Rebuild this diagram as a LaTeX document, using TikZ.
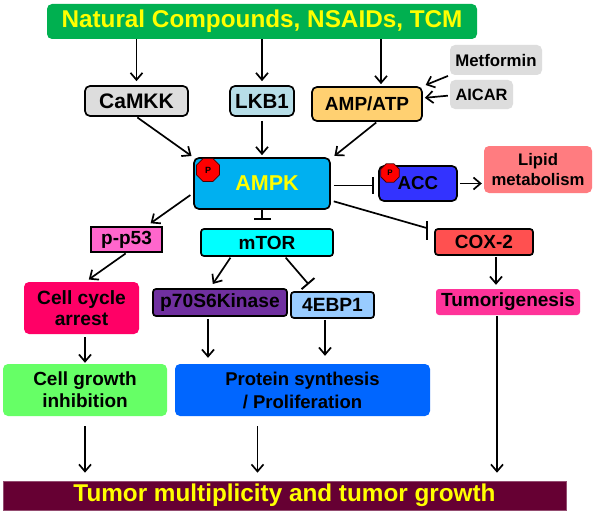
\documentclass[tikz,border=0pt]{standalone}
\usepackage{fontspec}
\setmainfont{Liberation Sans}
\usetikzlibrary{arrows.meta,calc,shapes.geometric}
\definecolor{cgreen}{HTML}{00B050}
\definecolor{cgray}{HTML}{DDDDDD}
\definecolor{clkb}{HTML}{B7DEE8}
\definecolor{camp}{HTML}{FFD071}
\definecolor{campk}{HTML}{00B0F0}
\definecolor{cacc}{HTML}{3333FF}
\definecolor{clipid}{HTML}{FF7C80}
\definecolor{cp53}{HTML}{FF66CC}
\definecolor{cmtor}{HTML}{00FFFF}
\definecolor{ccox}{HTML}{FF5050}
\definecolor{ccca}{HTML}{FF0066}
\definecolor{cp70}{HTML}{7030A0}
\definecolor{cebp}{HTML}{99CCFF}
\definecolor{ctum}{HTML}{FF3399}
\definecolor{ccg}{HTML}{66FF66}
\definecolor{cprot}{HTML}{0066FF}
\definecolor{cbot}{HTML}{660033}
\definecolor{cyel}{HTML}{FFFF00}
\tikzset{
  fsz/.style={font=\fontsize{#1}{#1}\selectfont\bfseries},
  fsl/.style 2 args={font=\fontsize{#1}{#2}\selectfont\bfseries},
  box/.style={rectangle, rounded corners=5pt, inner sep=0pt, align=center},
  bbox/.style={box, draw=black, line width=1.7pt},
  arr/.style={line width=1.7pt, -{Straight Barb[length=7pt,width=12pt,line width=1.7pt]}},
  inh/.style={line width=1.7pt, -{Bar[width=17pt,line width=1.9pt]}},
  oct/.style={regular polygon, regular polygon sides=8, fill=red, draw=black!70!red, line width=0.8pt, inner sep=0pt},
}
\begin{document}
\begin{tikzpicture}[x=1pt,y=-1pt]
\useasboundingbox[fill=white] (0,0) rectangle (600,519);
% nodes
\node[box, fill=cgreen, minimum width=430, minimum height=35, text=cyel, fsz=24.3] (top) at (262,21.5) {Natural Compounds, NSAIDs, TCM};
\node[bbox, fill=cgray, minimum width=103, minimum height=30, fsz=21] (camkk) at (136.5,101) {CaMKK};
\node[bbox, fill=clkb, minimum width=64, minimum height=30, fsz=20.5] (lkb) at (262,101) {LKB1};
\node[bbox, fill=camp, minimum width=110, minimum height=34, fsz=19] (amp) at (367,104) {AMP/ATP};
\node[box, fill=cgray, minimum width=92, minimum height=30, fsz=16.8] (met) at (496,60) {Metformin};
\node[box, fill=cgray, minimum width=63, minimum height=29, fsz=16.4] (aicar) at (481.5,94.5) {AICAR};
\node[bbox, fill=campk, minimum width=136, minimum height=51, text=cyel, fsz=21.5] (ampk) at (262,183.5) {\hspace*{10pt}AMPK};
\node[oct, minimum size=25, fsz=9] (pa) at (208,170) {P};
\node[bbox, fill=cacc, minimum width=78, minimum height=35, fsz=18.7] (acc) at (418,183.5) {\raisebox{-3pt}{ACC}};
\node[oct, minimum size=20, fsz=8] (pc) at (390,173) {P};
\node[box, fill=clipid, minimum width=108, minimum height=47, fsl={16.7}{20.5}] (lipid) at (538,169.5) {Lipid\\ metabolism};
\node[draw=black, line width=1.7pt, fill=cp53, inner sep=0pt, minimum width=71, minimum height=25, fsz=19] (p53) at (126.5,239.5) {p-p53};
\node[bbox, rounded corners=3pt, fill=cmtor, minimum width=132, minimum height=27, fsz=19] (mtor) at (267,242.5) {mTOR};
\node[bbox, rounded corners=3pt, fill=ccox, minimum width=98, minimum height=26, fsz=19] (cox) at (484,242) {COX-2};
\node[box, fill=ccca, minimum width=115, minimum height=52, fsl={19.2}{21}] (cca) at (81.5,308) {Cell cycle\\ arrest};
\node[bbox, rounded corners=3pt, fill=cp70, minimum width=134, minimum height=27, fsz=19.2] (p70) at (220,302.5) {p70S6Kinase};
\node[bbox, rounded corners=3pt, fill=cebp, minimum width=83, minimum height=26, fsz=19.2] (ebp) at (332.5,305) {4EBP1};
\node[box, rounded corners=3pt, fill=ctum, minimum width=144, minimum height=26, fsz=19] (tum) at (508,302) {Tumorigenesis};
\node[box, fill=ccg, minimum width=164, minimum height=52, fsl={19}{22}] (cg) at (85,390) {Cell growth\\ inhibition};
\node[box, fill=cprot, minimum width=255, minimum height=52, fsl={18.5}{23}] (prot) at (302.5,390) {Protein synthesis\\ / Proliferation};
\node[rectangle, fill=cbot, draw=cbot!70!white, line width=0.6pt, inner sep=0pt, minimum width=563, minimum height=29, text=cyel, fsz=24.3] (bot) at (284.5,495.5) {Tumor multiplicity and tumor growth};
% helper coordinates
\coordinate (ampn) at ($(amp.north)+(14,0)$);
\coordinate (amps) at ($(amp.south)+(10,0)$);
\coordinate (coxb) at ($(cox.north west)+(-7,0)$);
\coordinate (coxs) at ($(cox.south)+(12,0)$);
\coordinate (p70s) at ($(p70.south)+(-12,0)$);
\coordinate (ebps) at ($(ebp.south)+(-7.5,0)$);
\coordinate (prots) at ($(prot.south)+(-45,0)$);
\coordinate (tums) at ($(tum.south)+(-11,0)$);
% connectors
\draw[arr, shorten >=4pt] (top.south -| camkk.north) -- (camkk.north);
\draw[arr, shorten >=4pt] (top.south -| lkb.north) -- (lkb.north);
\draw[arr, shorten >=2pt] (top.south -| ampn) -- (ampn);
\draw[arr, shorten <=2pt, shorten >=3pt] (met.south west) -- (amp.north east);
\draw[arr, shorten <=2pt, shorten >=2pt] ($(aicar.west)+(0,1)$) -- ($(amp.east)+(0,-6)$);
\draw[arr, shorten <=1pt, shorten >=2pt] (camkk.south) -- (ampk.north west);
\draw[arr, shorten <=4pt, shorten >=2pt] (lkb.south) -- (ampk.north);
\draw[arr, shorten <=1pt, shorten >=2pt] (amps) -- ($(ampk.north east)+(2,0)$);
\draw[inh, shorten <=3pt, shorten >=4pt] ($(ampk.east)+(0,2)$) -- ($(acc.west)+(0,2)$);
\draw[arr, shorten <=2pt, shorten >=2pt] (acc.east) -- (lipid.west |- acc.east);
\draw[arr, shorten <=1pt, shorten >=5pt] ($(ampk.west)+(-2,11)$) -- ($(p53.north)+(20,0)$);
\draw[inh, shorten >=8pt] (ampk.south) -- (ampk.south |- mtor.north);
\draw[line width=1.7pt, shorten <=3pt] ($(ampk.east)+(0,17)$) -- (coxb);
\draw[line width=1.9pt] ($(coxb)+(0,-7)$) -- ($(coxb)+(0,12)$);
\draw[arr, shorten <=1pt, shorten >=4pt] (p53.south) -- ($(cca.north)+(4,0)$);
\draw[arr, shorten <=1pt, shorten >=5pt] ($(mtor.south)+(-36,0)$) -- ($(p70.north)+(-10,0)$);
\draw[inh, shorten <=1pt, shorten >=9pt] ($(mtor.south)+(18,0)$) -- ($(ebp.north)+(-18,0)$);
\draw[arr, shorten <=1pt, shorten >=4pt] (coxs) -- (coxs |- tum.north);
\draw[arr, shorten <=2pt, shorten >=6pt] (p70s) -- (p70s |- prot.north);
\draw[arr, shorten <=1pt, shorten >=8pt] (ebps) -- (ebps |- prot.north);
\draw[arr, shorten <=3pt, shorten >=1pt] (cca.south -| cg.north) -- (cg.north);
\draw[arr, shorten <=10pt, shorten >=8pt] (cg.south) -- (cg.south |- bot.north);
\draw[arr, shorten <=10pt, shorten >=8pt] (prots) -- (prots |- bot.north);
\draw[arr, shorten <=1pt, shorten >=8pt] (tums) -- (tums |- bot.north);
\end{tikzpicture}
\end{document}
